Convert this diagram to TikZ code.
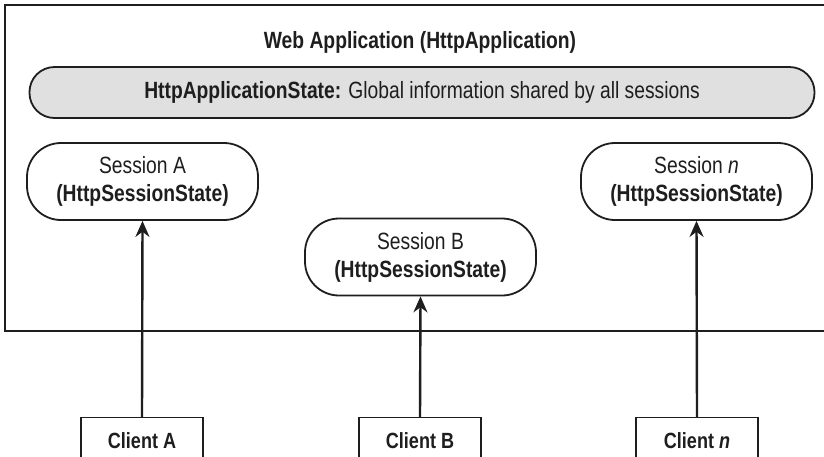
\documentclass[tikz,border=0pt]{standalone}
\usepackage{fontspec}
\setmainfont{Liberation Sans}[FakeStretch=0.82]
\usetikzlibrary{arrows.meta}
\definecolor{barfill}{RGB}{224,224,224}
\definecolor{ink}{RGB}{30,30,30}
\tikzset{
  txt/.style={font=\fontsize{23.5}{28}\selectfont, text=ink},
  sessbox/.style={txt, draw=ink, line width=1.8pt, rounded corners=34pt, minimum width=231pt, minimum height=77pt, align=center, inner sep=0pt},
  clientbox/.style={draw=ink, line width=1.3pt, minimum width=122pt, minimum height=50pt, anchor=north, font=\bfseries\fontsize{22}{26}\selectfont, text=ink, text depth=0pt, text height=12pt},
  conn/.style={draw=ink, line width=2.4pt, -{Stealth[length=16pt,width=14pt]}},
}
\begin{document}
\begin{tikzpicture}[x=1pt,y=-1pt]
\useasboundingbox (0,0) rectangle (824,456);
\clip (0,0) rectangle (824,456);
\fill[white] (0,0) rectangle (824,456);
\draw[ink, line width=1.8pt] (840,5) -- (5,5) -- (5,331) -- (840,331);
\node[txt, font=\bfseries\fontsize{23.5}{28}\selectfont] (title) at (420,42) {Web Application (HttpApplication)};
\node[txt, draw=ink, fill=barfill, line width=1.8pt, rounded corners=25pt, minimum width=785pt, minimum height=51pt, inner sep=0pt] (appstate) at (422,92.5) {\textbf{HttpApplicationState:} Global information shared by all sessions};
\node[sessbox] (sa) at (142.5,181.5) {Session A\\\textbf{(HttpSessionState)}};
\node[sessbox] (sb) at (420.5,257) {Session B\\\textbf{(HttpSessionState)}};
\node[sessbox] (sn) at (696.5,181.5) {Session \textit{n}\\\textbf{(HttpSessionState)}};
\node[clientbox] (ca) at (142,417) {Client A};
\node[clientbox] (cb) at (420,417) {Client B};
\node[clientbox] (cn) at (697,417) {Client \textit{n}};
\draw[conn] (ca.north) -- (sa.south);
\draw[conn] (cb.north) -- (sb.south);
\draw[conn] (cn.north) -- (sn.south);
\end{tikzpicture}
\end{document}
